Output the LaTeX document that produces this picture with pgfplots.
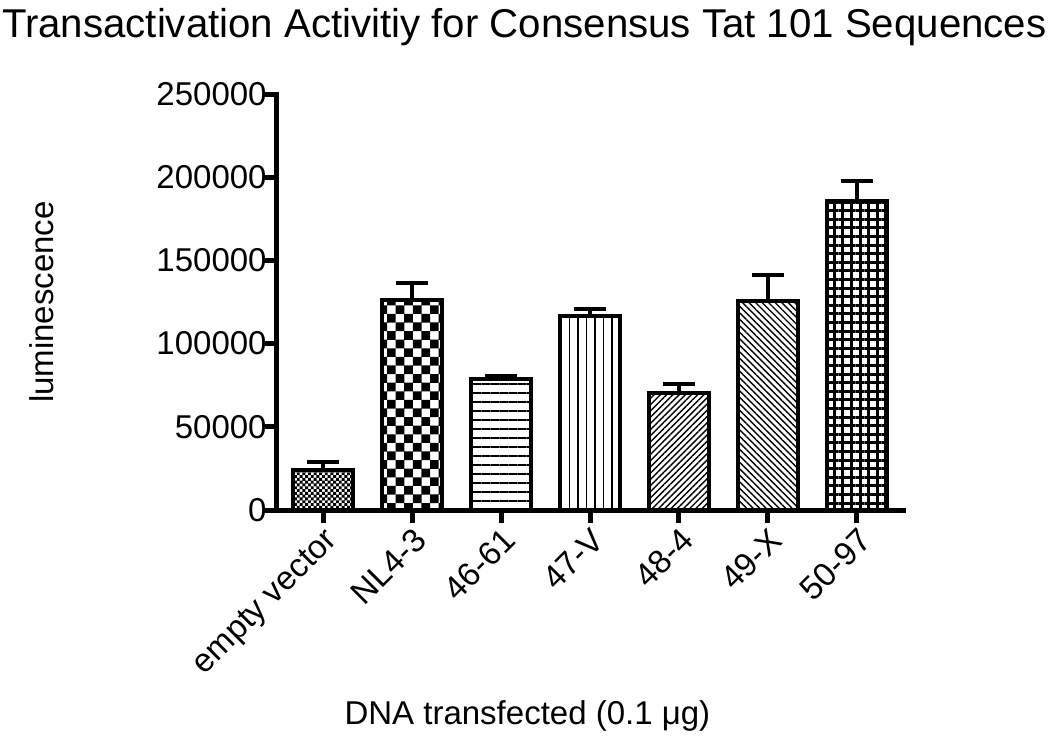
\documentclass[border=0pt]{standalone}
\usepackage{pgfplots}
\pgfplotsset{compat=1.18}
\usepackage{fontspec}
\setmainfont{Liberation Sans}
\usetikzlibrary{patterns,patterns.meta}

\pgfdeclarepatternformonly{bigchecker}{\pgfqpoint{-0.05pt}{-0.05pt}}{\pgfqpoint{8.65pt}{8.65pt}}{\pgfqpoint{8.6pt}{8.6pt}}{%
  \pgfpathrectangle{\pgfqpoint{0pt}{0pt}}{\pgfqpoint{4.35pt}{4.35pt}}%
  \pgfpathrectangle{\pgfqpoint{4.3pt}{4.3pt}}{\pgfqpoint{4.35pt}{4.35pt}}%
  \pgfusepath{fill}}
\pgfdeclarepatternformonly{smallchecker}{\pgfqpoint{-0.05pt}{-0.05pt}}{\pgfqpoint{2.85pt}{2.85pt}}{\pgfqpoint{2.8pt}{2.8pt}}{%
  \pgfpathrectangle{\pgfqpoint{0pt}{0pt}}{\pgfqpoint{1.45pt}{1.45pt}}%
  \pgfpathrectangle{\pgfqpoint{1.4pt}{1.4pt}}{\pgfqpoint{1.45pt}{1.45pt}}%
  \pgfusepath{fill}}

\begin{document}
\begin{tikzpicture}
\useasboundingbox (-138.5pt,-117pt) rectangle (386.5pt,255pt);
\begin{axis}[
  scale only axis,
  width=313pt, height=208pt,
  xmin=-0.52, xmax=6.52,
  ymin=0, ymax=250000,
  axis lines=left,
  axis line style={-, line width=2.5pt, line cap=rect},
  tick style={line width=2.5pt, black},
  major tick length=6.5pt,
  tick align=outside,
  xtick={0,1,2,3,4,5,6},
  xticklabels={empty vector, NL4-3, 46-61, 47-V, 48-4, 49-X, 50-97},
  xticklabel style={rotate=45, anchor=north east, inner sep=1pt, font=\fontsize{16.5}{19}\selectfont},
  ytick={0,50000,100000,150000,200000,250000},
  scaled y ticks=false,
  yticklabel style={font=\fontsize{16.5}{19}\selectfont, inner sep=0pt, xshift=1.5pt},
  yticklabel style={/pgf/number format/fixed, /pgf/number format/1000 sep={}, /pgf/number format/assume math mode=true},
  ylabel={luminescence},
  ylabel style={at={(rel axis cs:0,0.5)}, yshift=117.5pt, anchor=center, font=\fontsize{16.5}{19}\selectfont},
  xlabel={DNA transfected (0.1 μg)},
  xlabel style={at={(rel axis cs:0.4,0)}, yshift=-103pt, anchor=center, font=\fontsize{16.5}{19}\selectfont},
  title={Transactivation Activitiy for Consensus Tat 101 Sequences},
  title style={at={(rel axis cs:0.395,1)}, yshift=27.5pt, anchor=center, font=\fontsize{20.1}{23}\selectfont},
  ybar, bar width=30pt, bar shift=0pt,
  every axis plot/.append style={draw=black, line width=2pt},
  error bars/y dir=plus, error bars/y explicit,
  error bars/error bar style={line width=2pt, black},
  error bars/error mark options={rotate=90, mark size=8pt, line width=2pt, black},
  clip=false,
]
\addplot[pattern=smallchecker] coordinates {(0,24000) +- (0,5000)};
\addplot[pattern=bigchecker] coordinates {(1,126000) +- (0,10500)};
\addplot[pattern={Lines[angle=0, distance=4.5pt, line width=0.8pt]}] coordinates {(2,79000) +- (0,1300)};
\addplot[pattern={Lines[angle=90, distance=4.25pt, line width=0.85pt]}] coordinates {(3,116500) +- (0,4000)};
\addplot[pattern={Lines[angle=45, distance=2.2pt, line width=0.7pt]}] coordinates {(4,70500) +- (0,5500)};
\addplot[pattern={Lines[angle=-45, distance=2.3pt, line width=0.7pt]}] coordinates {(5,125500) +- (0,15500)};
\addplot[pattern={Hatch[angle=0, distance=4.3pt, line width=1.5pt]}] coordinates {(6,185500) +- (0,12000)};
\end{axis}
\end{tikzpicture}
\end{document}
